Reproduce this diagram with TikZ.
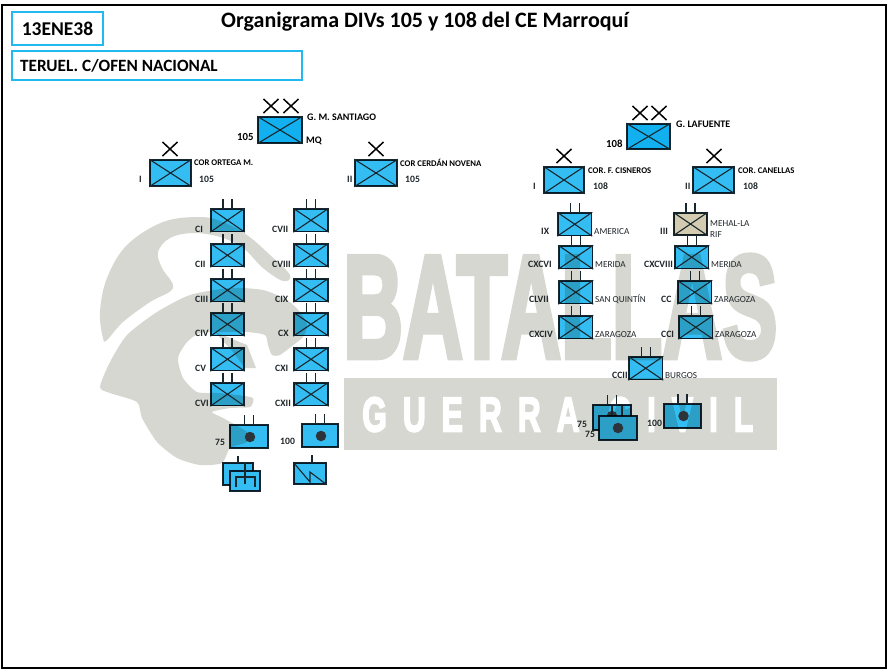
\documentclass[tikz,border=0pt]{standalone}
\usepackage{fontspec}
\usepackage{graphicx}
\setmainfont{Carlito}
\newfontfamily\wmfont[FakeBold=4]{Liberation Sans}
\usetikzlibrary{calc,shapes.misc}
\definecolor{wmgray}{HTML}{D5D7D0}
\definecolor{unitblue}{HTML}{34BDF2}
\definecolor{divblue}{HTML}{12B0EE}
\definecolor{rifbeige}{HTML}{D3CCB0}
\definecolor{edgeline}{HTML}{18262E}
\definecolor{titlecyan}{HTML}{22B8F0}
\definecolor{labgray}{HTML}{20262A}
\definecolor{dotgray}{HTML}{2C343A}
\tikzset{
  unitnode/.style={rectangle, draw=edgeline, fill=unitblue, line width=1.4pt, inner sep=0pt, blend mode=multiply},
  unitline/.style={draw=edgeline, line width=1.1pt},
  stemline/.style={draw=edgeline, line width=1.1pt},
  xmark/.style={cross out, draw=black, line width=1.5pt, inner sep=0pt, minimum width=13.5pt, minimum height=12.5pt},
  labunit/.style={text=labgray, anchor=west, inner sep=0pt, font=\bfseries\fontsize{9.7}{11}\selectfont},
  labcity/.style={text=labgray, anchor=west, inner sep=0pt, font=\fontsize{9.2}{10}\selectfont},
  labcor/.style={text=black, anchor=west, inner sep=0pt, font=\bfseries\fontsize{8.7}{9}\selectfont},
  labdiv/.style={text=black, anchor=west, inner sep=0pt, font=\bfseries\fontsize{10.8}{11}\selectfont},
  labgen/.style={text=black, anchor=west, inner sep=0pt, font=\bfseries\fontsize{10}{11}\selectfont},
  titlebox/.style={draw=titlecyan, line width=1.2pt, text=black, inner sep=0pt},
  gundot/.style={circle, fill=dotgray, inner sep=0pt, minimum size=10.5pt}
}
% unit box: name, left, top, right, bottom
\newcommand{\unitbox}[6][unitblue]{%
  \node[unitnode, fill=#1, minimum width=#5pt-#3pt, minimum height=#6pt-#4pt] (#2) at ({(#3+#5)/2},{(#4+#6)/2}) {};
}
\newcommand{\xcross}[1]{%
  \draw[unitline] (#1.north west) -- (#1.south east) (#1.north east) -- (#1.south west);
}
\newcommand{\twostems}[1]{%
  \draw[stemline] ($(#1.north)+(-4.5,0)$) -- ++(0,-9) ($(#1.north)+(4.5,0)$) -- ++(0,-9);
}

\begin{document}
\begin{tikzpicture}[x=1pt,y=-1pt]
  \useasboundingbox (0,0) rectangle (887,670);

  % watermark
  \fill[wmgray] plot[smooth cycle,tension=0.6] coordinates {(103,338) (100,312) (107,278) (127,245) (163,222) (200,217) (223,222) (247,235) (270,255) (290,275) (283,281) (263,268) (243,248) (220,237) (193,233) (170,238) (158,252) (162,268) (173,288) (150,302) (123,322) (107,340)};
  \fill[wmgray] plot[smooth cycle,tension=0.4] coordinates {(100,387) (110,362) (127,335) (157,312) (190,295) (230,288) (263,290) (287,300) (300,312) (307,325) (303,337) (292,346) (280,355) (272,355) (268,345) (265,335) (247,332) (223,332) (200,333) (187,342) (178,358) (183,378) (197,392) (217,393) (237,395) (253,398) (250,407) (230,408) (212,412) (223,418) (247,432) (247,442) (230,448) (222,463) (200,465) (177,458) (157,442) (142,418) (137,402) (110,393)};
  \fill[wmgray] (215,332) -- (247,345) -- (256,368) -- (245,368) -- (233,352) -- cycle;
  \node[anchor=south west, inner sep=0pt, text=wmgray] (wmbig) at (343,359) {\resizebox{434pt}{102pt}{\wmfont\bfseries BATALLAS}};
  \fill[wmgray] (344,378) rectangle (777,450);
  \node[anchor=south west, inner sep=0pt, text=white] (wmsmall) at (362,432) {\resizebox{391pt}{34pt}{\wmfont\bfseries G\hspace{0.5em}U\hspace{0.5em}E\hspace{0.5em}R\hspace{0.5em}R\hspace{0.5em}A\hspace{0.9em}C\hspace{0.5em}I\hspace{0.5em}V\hspace{0.5em}I\hspace{0.5em}L}};

  % frame and heading
  \draw[black, line width=2pt] (1.5,5) rectangle (885.5,668);
  \node[titlebox, minimum width=91pt, minimum height=33pt, font=\bfseries\fontsize{19.5}{20}\selectfont] (fecha) at (57.5,28.5) {13ENE38};
  \node[titlebox, minimum width=290pt, minimum height=29pt] (frente) at (157,65.5) {};
  \node[anchor=west, inner sep=0pt, font=\bfseries\fontsize{17.2}{18}\selectfont] (frentelab) at (20,65.5) {TERUEL. C/OFEN NACIONAL};
  \node[inner sep=0pt, font=\bfseries\fontsize{22}{23}\selectfont] (titulo) at (425,22) {Organigrama DIVs 105 y 108 del CE Marroquí};

  % division 105
  \unitbox[divblue]{divA}{258}{117}{302}{143}
  \xcross{divA}
  \node[xmark] (xa1) at (271,106) {};
  \node[xmark] (xa2) at (291,106) {};
  \node[labdiv] (divAlab) at (237,136.5) {105};
  \node[labgen] (divAcom) at (307,117) {G. M. SANTIAGO};
  \node[labgen] (divAmq) at (306,141) {MQ};

  \unitbox{regA}{150}{160}{191}{186}
  \xcross{regA}
  \node[xmark] (xa3) at (170,149) {};
  \node[labunit] (regAnum) at (139,179) {I};
  \node[labcor] (regAcom) at (194,163) {COR ORTEGA M.};
  \node[labunit] (regAdiv) at (199,179) {105};

  \unitbox{regB}{355}{160}{397}{186}
  \xcross{regB}
  \node[xmark] (xa4) at (376,149) {};
  \node[labunit] (regBnum) at (347,179) {II};
  \node[labcor] (regBcom) at (400,163) {COR CERDÁN NOVENA};
  \node[labunit] (regBdiv) at (405,179) {105};

  % battalions of 105
  \foreach \nm/\top/\lab/\lx in {CI/209/CI/195, CII/244/CII/195, CIII/279/CIII/195, CIV/313/CIV/195, CV/348/CV/195, CVI/383/CVI/195}{
    \unitbox{b\nm}{211}{\top}{244}{\top+22.5}
    \xcross{b\nm}
    \twostems{b\nm}
    \node[labunit] (l\nm) at (\lx,\top+20) {\lab};
  }
  \foreach \nm/\top/\lab/\lx in {CVII/209/CVII/272, CVIII/244/CVIII/272, CIX/279/CIX/275, CX/313/CX/278, CXI/348/CXI/275, CXII/383/CXII/275}{
    \unitbox{b\nm}{294}{\top}{328}{\top+22.5}
    \xcross{b\nm}
    \twostems{b\nm}
    \node[labunit] (l\nm) at (\lx,\top+20) {\lab};
  }

  % guns and engineers of 105
  \unitbox{gunA}{230}{425}{268}{448}
  \twostems{gunA}
  \node[gundot] (dotA) at (250,437) {};
  \node[labunit] (gunAlab) at (215,442) {75};
  \unitbox{gunB}{302}{424}{338}{447}
  \twostems{gunB}
  \node[gundot] (dotB) at (321,436) {};
  \node[labunit] (gunBlab) at (280,441) {100};

  \unitbox{engA}{223}{463}{253}{485}
  \draw[stemline] (238,456) -- (engA.north);
  \fill[white] (230,471) rectangle (260,491);
  \unitbox{engB}{230}{471}{260}{491}
  \draw[unitline] (236,487) -- (236,477) -- (255,477) -- (255,487);
  \draw[stemline] (245,463) -- (245,484);
  \unitbox{comA}{294}{463}{326}{484}
  \draw[stemline] (comA.north) ++(2,0) -- ++(0,-7);
  \draw[unitline] (comA.north west) -- (310,482) -- (310,472) -- (comA.south east);

  % division 108
  \unitbox[divblue]{divC}{627}{124}{670}{149}
  \xcross{divC}
  \node[xmark] (xc1) at (640,113) {};
  \node[xmark] (xc2) at (659,113) {};
  \node[labdiv] (divClab) at (606,144) {108};
  \node[labgen] (divCcom) at (676,124) {G. LAFUENTE};

  \unitbox{regC}{544}{167}{584}{193}
  \xcross{regC}
  \node[xmark] (xc3) at (564,156) {};
  \node[labunit] (regCnum) at (533,186) {I};
  \node[labcor] (regCcom) at (588,171) {COR. F. CISNEROS};
  \node[labunit] (regCdiv) at (593,186) {108};

  \unitbox{regD}{693}{167}{734}{193}
  \xcross{regD}
  \node[xmark] (xc4) at (714,156) {};
  \node[labunit] (regDnum) at (685,186) {II};
  \node[labcor] (regDcom) at (738,171) {COR. CANELLAS};
  \node[labunit] (regDdiv) at (743,186) {108};

  % battalions of 108
  \foreach \nm/\lf/\top/\lab/\lx/\city in {IX/558/213/IX/541/AMERICA, CXCVI/559/246/CXCVI/528/MERIDA, CLVII/559/281/CLVII/529/SAN QUINTÍN, CXCIV/559/316/CXCIV/529/ZARAGOZA, CXCVIII/675/246/CXCVIII/644/MERIDA, CC/678/281/CC/661/ZARAGOZA, CCI/679/316/CCI/661/ZARAGOZA, CCII/629/357/CCII/612/BURGOS}{
    \unitbox{b\nm}{\lf}{\top}{\lf+33.5}{\top+22.5}
    \xcross{b\nm}
    \twostems{b\nm}
    \node[labunit] (l\nm) at (\lx,\top+18.5) {\lab};
    \node[labcity] (c\nm) at (\lf+36,\top+18.5) {\city};
  }
  \unitbox[rifbeige]{bIII}{674}{213}{707}{235}
  \xcross{bIII}
  \twostems{bIII}
  \node[labunit] (lIII) at (660,231.5) {III};
  \node[labcity] (cIIIa) at (710,224) {MEHAL-LA};
  \node[labcity] (cIIIb) at (710,235) {RIF};

  % guns of 108
  \unitbox{gunC}{593}{405}{631}{430}
  \twostems{gunC}
  \node[gundot] (dotC) at (612,416) {};
  \draw[stemline] (612,406) -- (612,416) (622,406) -- (622,416);
  \fill[wmgray] (599,416) rectangle (637,440);
  \unitbox{gunD}{599}{416}{637}{440}
  \node[gundot] (dotD) at (618,428) {};
  \node[labunit] (gunClab) at (577,424) {75};
  \node[labunit] (gunDlab) at (585,434) {75};
  \unitbox{gunE}{664}{404}{701}{428}
  \twostems{gunE}
  \node[gundot] (dotE) at (683.5,416) {};
  \node[labunit] (gunElab) at (647,423) {100};
\end{tikzpicture}
\end{document}
